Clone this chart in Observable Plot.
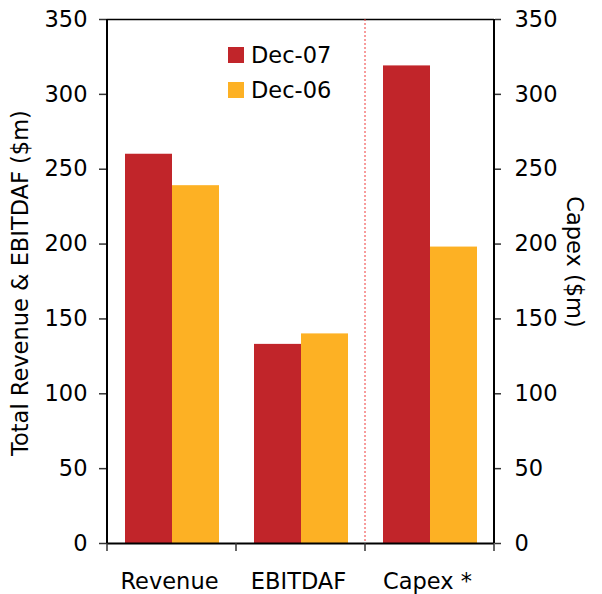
<!DOCTYPE html>
<html>
<head>
<meta charset="utf-8">
<script src="https://cdn.jsdelivr.net/npm/d3@7"></script>
<script src="https://cdn.jsdelivr.net/npm/@observablehq/plot@0.6"></script>
<style>
  html, body { margin: 0; padding: 0; background: white; }
</style>
</head>
<body>
<div id="chart"></div>
<script>
const categories = ["Revenue", "EBITDAF", "Capex *"];
const series = ["Dec-07", "Dec-06"];
const dec07 = [260, 133, 319];
const dec06 = [239, 140, 198];
const colors = ["#C1252A", "#FDB124"];
const yTicks = [0, 50, 100, 150, 200, 250, 300, 350];
const leftLabel = "Total Revenue & EBITDAF ($m)";
const rightLabel = "Capex ($m)";

const data = [];
categories.forEach((c, i) => {
  data.push({category: c, series: series[0], value: dec07[i]});
  data.push({category: c, series: series[1], value: dec06[i]});
});

const FONT = "DejaVu Sans";
const FS = 22.5;

const plot = Plot.plot({
  width: 602,
  height: 594,
  marginLeft: 107,
  marginRight: 108,
  marginTop: 19,
  marginBottom: 51,
  style: {fontFamily: FONT, fontSize: FS + "px", color: "black", background: "white", overflow: "visible"},
  fx: {domain: categories, padding: 0, label: null, axis: null},
  x: {domain: series, paddingInner: 0, paddingOuter: 0.37, axis: null},
  y: {domain: [0, 350], ticks: yTicks},
  color: {domain: series, range: colors},
  marks: [
    Plot.barY(data, {fx: "category", x: "series", y: "value", fill: "series"}),
    Plot.ruleY([0], {stroke: "black", strokeWidth: 2}),
    Plot.ruleY([350], {stroke: "black", strokeWidth: 1.5}),
    Plot.axisY({anchor: "left", ticks: yTicks, tickSize: 8, tickPadding: 12, label: null, stroke: "#333", strokeWidth: 1.5, fontSize: FS}),
    Plot.axisY({anchor: "right", ticks: yTicks, tickSize: 6, tickPadding: 14, label: null, stroke: "#333", strokeWidth: 1.5, fontSize: FS})
  ]
});

document.getElementById("chart").appendChild(plot);

// Extra decorations using the plot's own scales
const svg = d3.select(plot);
const fx = plot.scale("fx");
const y = plot.scale("y");
const bw = fx.bandwidth;
const y0 = y.apply(0), yTop = y.apply(350);
const xLeft = fx.apply(categories[0]);
const xRight = fx.apply(categories[categories.length - 1]) + bw;

const g = svg.append("g").attr("text-anchor", "start");
// vertical axis lines
g.append("line").attr("x1", xLeft).attr("x2", xLeft).attr("y1", yTop).attr("y2", y0)
  .attr("stroke", "black").attr("stroke-width", 2);
g.append("line").attr("x1", xRight).attr("x2", xRight).attr("y1", yTop).attr("y2", y0)
  .attr("stroke", "black").attr("stroke-width", 2);
// category boundary ticks
const bounds = categories.map(c => fx.apply(c)).concat([xRight]);
bounds.forEach(b => {
  g.append("line").attr("x1", b).attr("x2", b).attr("y1", y0).attr("y2", y0 + 8)
    .attr("stroke", "#333").attr("stroke-width", 1.5);
});
// dotted separator before Capex
const sepX = fx.apply(categories[2]);
g.append("line").attr("x1", sepX).attr("x2", sepX).attr("y1", yTop).attr("y2", y0)
  .attr("stroke", "#F03A3A").attr("stroke-width", 1).attr("stroke-dasharray", "2,2");
// category labels
categories.forEach(c => {
  g.append("text").attr("x", fx.apply(c) + bw / 2 - 2).attr("y", y0 + 46)
    .attr("text-anchor", "middle").attr("font-family", FONT).attr("font-size", FS)
    .attr("fill", "black").text(c);
});
// axis titles
g.append("text").attr("transform", `translate(28, ${(y0 + yTop) / 2 + 2}) rotate(-90)`)
  .attr("text-anchor", "middle").attr("font-family", FONT).attr("font-size", FS)
  .attr("fill", "black").text(leftLabel);
g.append("text").attr("transform", `translate(567, 262) rotate(90)`)
  .attr("text-anchor", "middle").attr("font-family", FONT).attr("font-size", FS)
  .attr("fill", "black").text(rightLabel);
// legend
series.forEach((s, i) => {
  const ly = 47 + i * 35;
  g.append("rect").attr("x", 228).attr("y", ly).attr("width", 16).attr("height", 16)
    .attr("fill", colors[i]);
  g.append("text").attr("x", 251).attr("y", ly + 16).attr("text-anchor", "start")
    .attr("font-family", FONT).attr("font-size", FS).attr("fill", "black").text(s);
});
</script>
</body>
</html>
